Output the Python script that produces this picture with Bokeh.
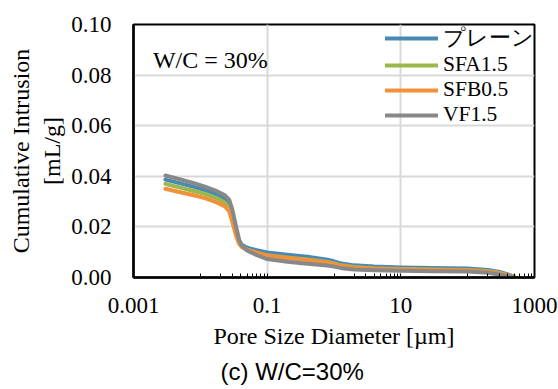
from bokeh.plotting import figure
from bokeh.models import FixedTicker, CustomJSTickFormatter, Legend, LegendItem, Label, Title
from bokeh.embed import file_html
from bokeh.resources import INLINE

# pore size diameter [um]
pore_size = [0.003, 0.005, 0.008, 0.012, 0.018, 0.023, 0.027, 0.03, 0.034, 0.038, 0.042, 0.05,
             0.07, 0.1, 0.2, 0.4, 0.8, 1.0, 1.3, 2, 4, 10, 30, 100, 200, 300, 400, 500]
# cumulative intrusion [mL/g]
plain = [0.0387, 0.0372, 0.0358, 0.0345, 0.0328, 0.0312, 0.0290, 0.0250, 0.0190, 0.0145, 0.0128, 0.0118,
         0.0108, 0.0099, 0.0090, 0.0082, 0.0070, 0.0064, 0.0055, 0.0048, 0.0043, 0.0040, 0.0038, 0.0036,
         0.0030, 0.0022, 0.0012, 0.0003]
sfa15 = [0.0370, 0.0355, 0.0342, 0.0330, 0.0312, 0.0297, 0.0275, 0.0235, 0.0178, 0.0138, 0.0122, 0.0110,
         0.0098, 0.0088, 0.0079, 0.0071, 0.0061, 0.0056, 0.0048, 0.0042, 0.0037, 0.0034, 0.0032, 0.0030,
         0.0025, 0.0018, 0.0009, 0.0002]
sfb05 = [0.0351, 0.0337, 0.0325, 0.0313, 0.0296, 0.0282, 0.0262, 0.0222, 0.0168, 0.0133, 0.0120, 0.0110,
         0.0097, 0.0087, 0.0077, 0.0069, 0.0059, 0.0054, 0.0046, 0.0040, 0.0035, 0.0033, 0.0031, 0.0029,
         0.0024, 0.0017, 0.0008, 0.0001]
vf15 = [0.0403, 0.0388, 0.0373, 0.0358, 0.0340, 0.0326, 0.0308, 0.0270, 0.0205, 0.0150, 0.0125, 0.0107,
        0.0088, 0.0073, 0.0062, 0.0054, 0.0047, 0.0043, 0.0037, 0.0032, 0.0029, 0.0027, 0.0025, 0.0024,
        0.0019, 0.0012, 0.0005, 0.0000]

series_names = ["プレーン", "SFA1.5", "SFB0.5", "VF1.5"]
series_values = [plain, sfa15, sfb05, vf15]
series_colors = ["#4a89b6", "#9bb84a", "#f3913a", "#888888"]

x_major = [0.001, 0.1, 10, 1000]
x_minor = [0.01, 0.02, 0.03, 0.04, 0.05, 0.06, 0.07, 0.08, 0.09,
           1, 2, 3, 4, 5, 6, 7, 8, 9,
           100, 200, 300, 400, 500, 600, 700, 800, 900]
y_ticks = [0.0, 0.02, 0.04, 0.06, 0.08, 0.10]

SERIF = "Liberation Serif"
FS_TICK = "23px"
FS = "24px"

p = figure(width=558, height=389, x_axis_type="log", x_range=(0.001, 1000), y_range=(0, 0.1),
           output_backend="svg", toolbar_location=None,
           min_border_left=133, min_border_right=24, min_border_top=24, min_border_bottom=112)
p.background_fill_color = "white"
p.border_fill_color = "white"
p.outline_line_color = "black"
p.outline_line_width = 2

renderers = []
for name, vals, col in zip(series_names, series_values, series_colors):
    r = p.line(pore_size, vals, line_color=col, line_width=4, line_cap="round", line_join="round")
    renderers.append((name, r))

# x axis
xa = p.xaxis[0]
xa.ticker = FixedTicker(ticks=x_major, minor_ticks=x_minor)
xa.formatter = CustomJSTickFormatter(code="return tick.toString();")
xa.axis_line_color = "black"
xa.axis_line_width = 2.5
xa.major_tick_in = 4
xa.major_tick_out = 0
xa.minor_tick_in = 4
xa.minor_tick_out = 0
xa.major_tick_line_color = "black"
xa.minor_tick_line_color = "black"
xa.major_label_text_font = SERIF
xa.major_label_text_font_size = FS_TICK
xa.major_label_text_color = "black"
xa.major_label_standoff = 20
xa.axis_label = "Pore Size Diameter [µm]"
xa.axis_label_text_font = SERIF
xa.axis_label_text_font_size = FS
xa.axis_label_text_font_style = "normal"
xa.axis_label_text_color = "black"
xa.axis_label_standoff = 7

# y axis
ya = p.yaxis[0]
ya.ticker = FixedTicker(ticks=y_ticks)
ya.formatter = CustomJSTickFormatter(code="return tick.toFixed(2);")
ya.axis_line_color = "black"
ya.axis_line_width = 2.5
ya.major_tick_line_color = None
ya.minor_tick_line_color = None
ya.major_tick_in = 0
ya.major_tick_out = 0
ya.major_label_text_font = SERIF
ya.major_label_text_font_size = FS_TICK
ya.major_label_text_color = "black"
ya.major_label_standoff = 22
ya.axis_label = "Cumulative Intrusion\n[mL/g]"
ya.axis_label_text_font = SERIF
ya.axis_label_text_font_size = FS
ya.axis_label_text_font_style = "normal"
ya.axis_label_text_color = "black"
ya.axis_label_standoff = 3

p.xgrid.ticker = FixedTicker(ticks=x_major)
p.xgrid.grid_line_color = "#d9d9d9"
p.xgrid.grid_line_width = 2
p.ygrid.ticker = FixedTicker(ticks=y_ticks)
p.ygrid.grid_line_color = "#d9d9d9"
p.ygrid.grid_line_width = 2

legend = Legend(items=[LegendItem(label=n, renderers=[r]) for n, r in renderers],
                location=(252, 150), orientation="vertical",
                background_fill_alpha=0, border_line_color=None,
                padding=0, margin=0, spacing=0,
                glyph_width=53, glyph_height=20, label_height=20, label_standoff=5,
                label_text_font=SERIF, label_text_font_size="21.5px", label_text_color="black")
p.add_layout(legend)

p.add_layout(Label(x=0.00195, y=0.0858, text="W/C = 30%", text_font=SERIF, text_font_size=FS,
                   text_color="black", text_baseline="middle", text_align="left"))

p.add_layout(Title(text="(c) W/C=30%", align="left", offset=87, standoff=9, text_font="Liberation Sans",
                   text_font_size=FS, text_font_style="normal", text_color="black"), "below")

open("out.html", "w").write(file_html(p, INLINE))
